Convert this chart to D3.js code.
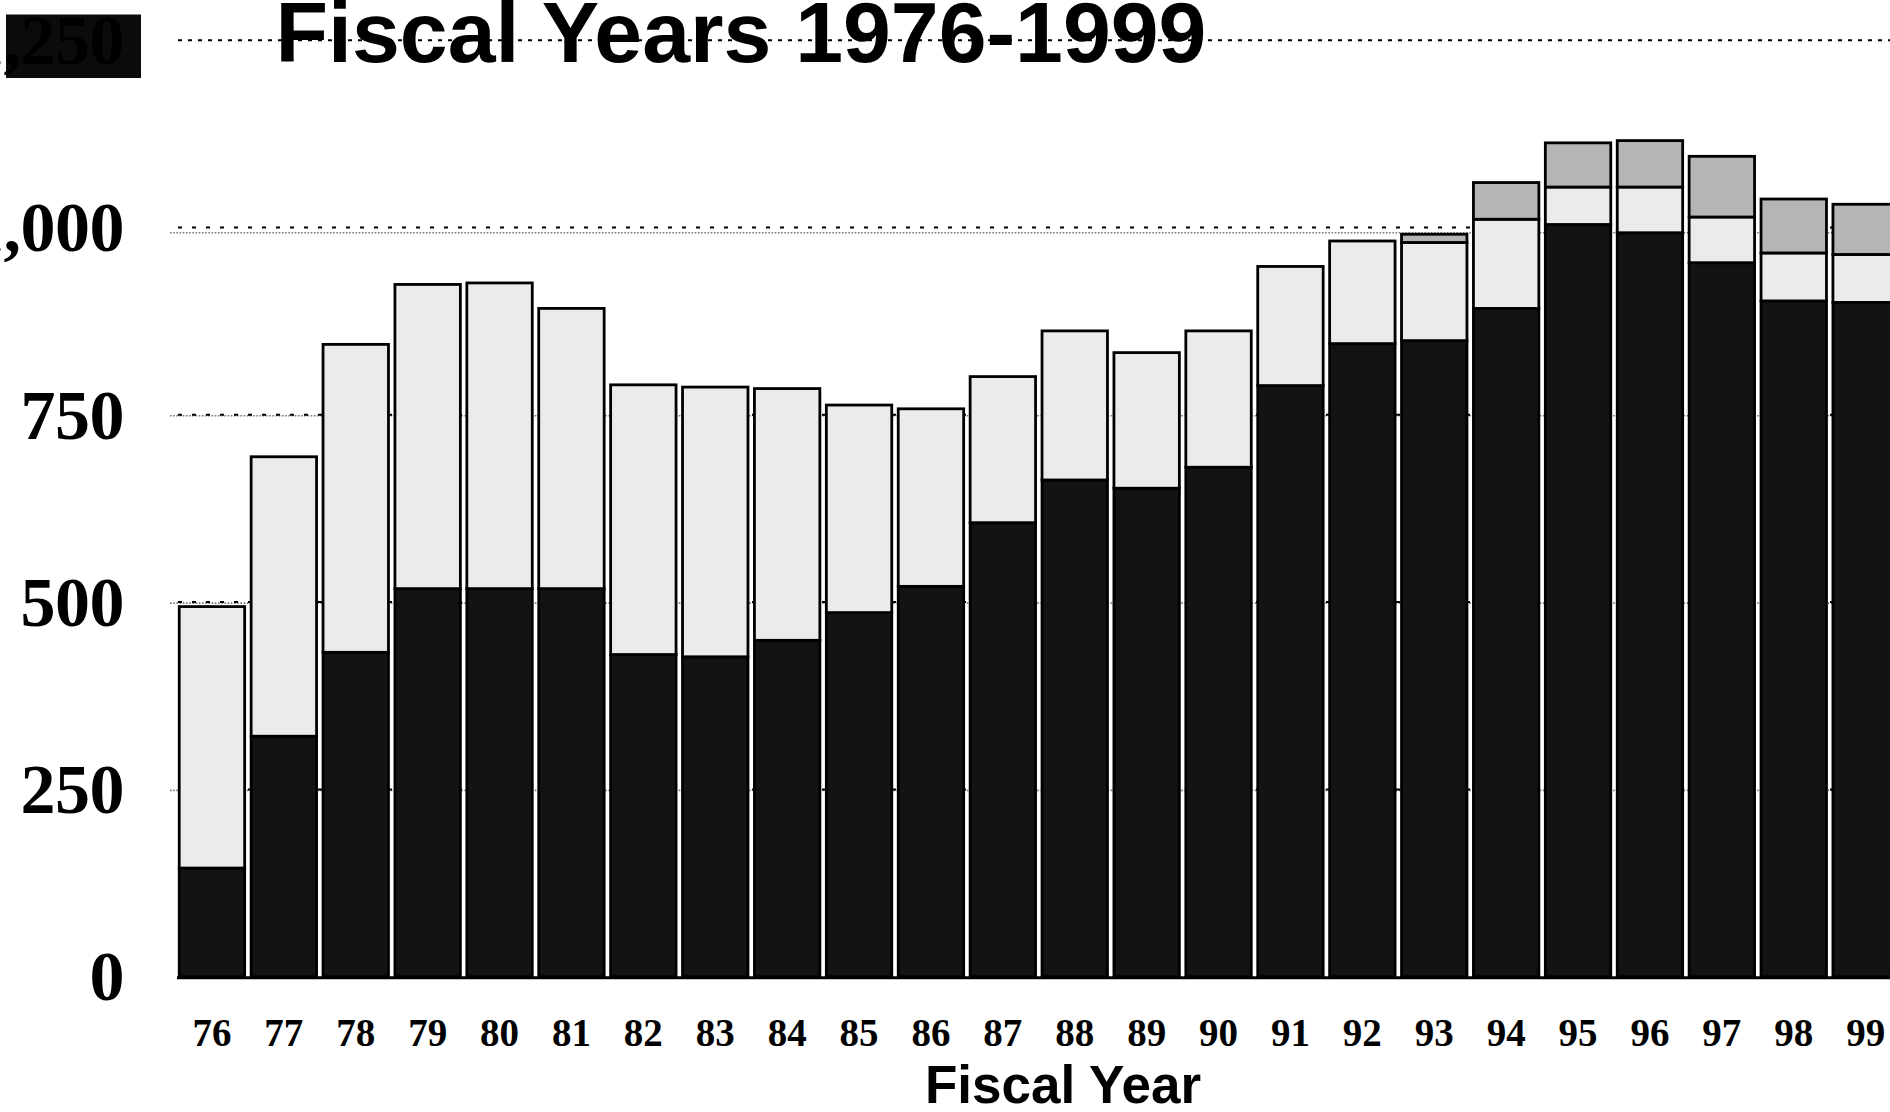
<!DOCTYPE html>
<html>
<head>
<meta charset="utf-8">
<script src="https://cdn.jsdelivr.net/npm/d3@7"></script>
<style>
  html, body { margin: 0; padding: 0; background: #fff; }
  svg { display: block; }
</style>
</head>
<body>
<script>
// Fiscal years shown on the x axis
const years = ["76","77","78","79","80","81","82","83","84","85","86","87",
               "88","89","90","91","92","93","94","95","96","97","98","99"];

// Stacked segments, bottom to top
const baseSeries = [145, 321, 433, 518, 518, 518, 430, 427, 449, 486, 521, 606,
                    663, 652, 680, 789, 845, 849, 892, 1004, 993, 953, 902, 900];
const midSeries  = [349, 373, 411, 406, 408, 374, 360, 360, 336, 277, 237, 195,
                    199, 181, 182, 159, 137, 131, 119, 50, 61, 61, 64, 64];
const topSeries  = [0, 0, 0, 0, 0, 0, 0, 0, 0, 0, 0, 0,
                    0, 0, 0, 0, 0, 11, 49, 59, 62, 81, 72, 67];

const yTicks = [0, 250, 500, 750, 1000, 1250];
// fine dotted reference lines drawn behind the bars
const dottedLines = [250, 500, 750, 993];

const titleText = "Fiscal Years 1976-1999";
const xAxisTitle = "Fiscal Year";

const W = 1890, H = 1112;
const svg = d3.select("body").append("svg")
  .attr("width", W).attr("height", H)
  .style("background", "#fff");

const x = d3.scaleBand()
  .domain(years)
  .range([176, 176 + 24 * 71.9])
  .paddingInner(0.09)
  .paddingOuter(0.045);

const y = d3.scaleLinear().domain([0, 1250]).range([976.7, 40.2]);

const rows = years.map((yr, i) => ({
  year: yr, base: baseSeries[i], mid: midSeries[i], top: topSeries[i]
}));
const keys = ["base", "mid", "top"];
const fills = { base: "#131313", mid: "#ebebeb", top: "#b5b5b5" };
const stacked = d3.stack().keys(keys)(rows);

// gridlines
const grid = svg.append("g");
grid.selectAll("line.dot")
  .data(dottedLines)
  .join("line")
  .attr("class", "dot")
  .attr("x1", 170).attr("x2", W)
  .attr("y1", d => y(d) + (d === 993 ? 0 : 1)).attr("y2", d => y(d) + (d === 993 ? 0 : 1))
  .attr("stroke", "#777").attr("stroke-width", 1.6)
  .attr("stroke-dasharray", "1.6,1.6");

grid.selectAll("line.dash")
  .data(yTicks.filter(d => d > 0))
  .join("line")
  .attr("class", "dash")
  .attr("x1", 178).attr("x2", W)
  .attr("y1", d => y(d)).attr("y2", d => y(d))
  .attr("stroke", "#000").attr("stroke-width", 2)
  .attr("stroke-dasharray", d => d === 1250 ? "4,6" : "4,10");

// stacked bars
const layers = svg.append("g").selectAll("g")
  .data(stacked)
  .join("g")
  .attr("fill", d => fills[d.key]);

layers.selectAll("rect")
  .data(d => d.filter(s => s[1] - s[0] > 0))
  .join("rect")
  .attr("x", d => x(d.data.year))
  .attr("width", x.bandwidth())
  .attr("y", d => y(d[1]))
  .attr("height", d => y(d[0]) - y(d[1]))
  .attr("stroke", "#000")
  .attr("stroke-width", 2.8);

// baseline
svg.append("line")
  .attr("x1", 177).attr("x2", W)
  .attr("y1", y(0) + 1).attr("y2", y(0) + 1)
  .attr("stroke", "#000").attr("stroke-width", 3);

// highlight box behind the top tick label
svg.append("rect")
  .attr("x", 6).attr("y", y(1250) - 25.7)
  .attr("width", 135).attr("height", 63.5)
  .attr("fill", "#0b0b0b");

// y tick labels
const fmt = d3.format(",");
svg.append("g").selectAll("text")
  .data(yTicks)
  .join("text")
  .attr("x", 124)
  .attr("y", d => y(d) + 23.7)
  .attr("text-anchor", "end")
  .attr("font-family", "'Liberation Serif', 'Times New Roman', serif")
  .attr("font-weight", "bold")
  .attr("font-size", 70)
  .attr("letter-spacing", -0.5)
  .attr("fill", "#000")
  .text(d => fmt(d));

// x tick labels
svg.append("g").selectAll("text")
  .data(years)
  .join("text")
  .attr("x", d => x(d) + x.bandwidth() / 2)
  .attr("y", 1046)
  .attr("text-anchor", "middle")
  .attr("font-family", "'Liberation Serif', 'Times New Roman', serif")
  .attr("font-weight", "bold")
  .attr("font-size", 39)
  .attr("fill", "#000")
  .text(d => d);

// titles
svg.append("text")
  .attr("x", 741).attr("y", 62)
  .attr("text-anchor", "middle")
  .attr("font-family", "'Liberation Sans', Arial, sans-serif")
  .attr("font-weight", "bold")
  .attr("font-size", 86)
  .attr("fill", "#000")
  .text(titleText);

svg.append("text")
  .attr("x", 1063).attr("y", 1103)
  .attr("text-anchor", "middle")
  .attr("font-family", "'Liberation Sans', Arial, sans-serif")
  .attr("font-weight", "bold")
  .attr("font-size", 53)
  .attr("fill", "#000")
  .text(xAxisTitle);
</script>
</body>
</html>
